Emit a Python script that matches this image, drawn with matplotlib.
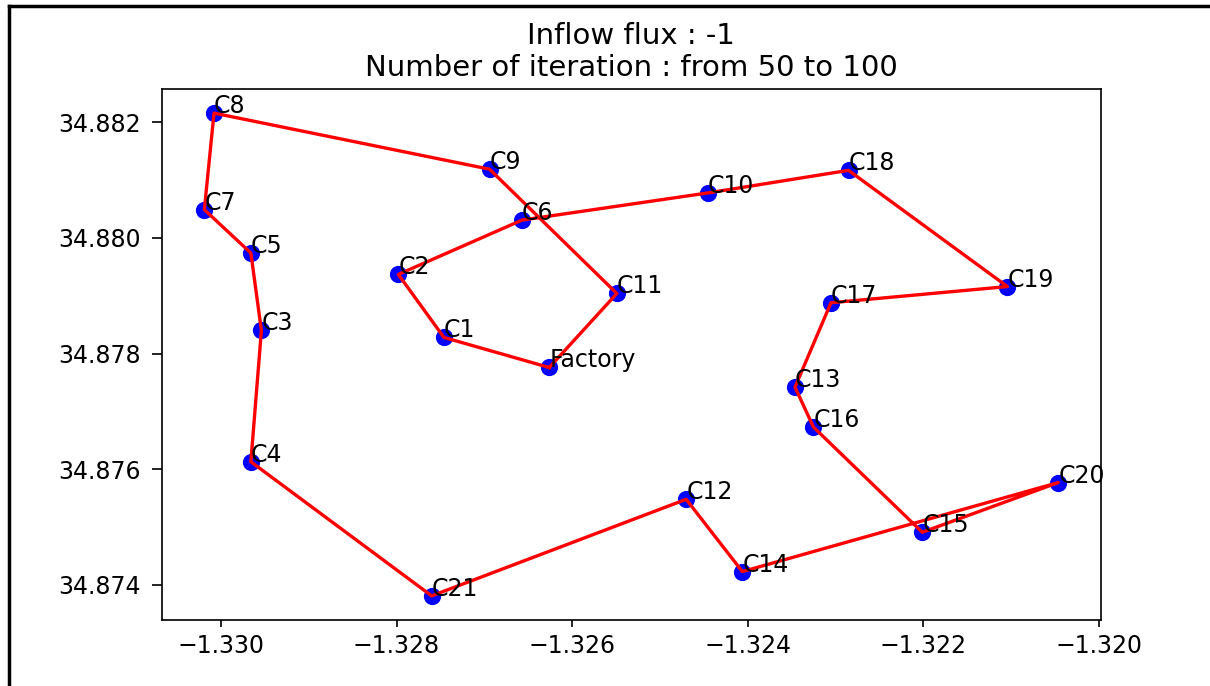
import matplotlib
matplotlib.use('Agg')
import matplotlib.pyplot as plt
from matplotlib.lines import Line2D

# customer / factory coordinates
names = ['Factory', 'C1', 'C2', 'C3', 'C4', 'C5', 'C6', 'C7', 'C8', 'C9', 'C10',
         'C11', 'C12', 'C13', 'C14', 'C15', 'C16', 'C17', 'C18', 'C19', 'C20', 'C21']
xs = [-1.32626, -1.32746, -1.32798, -1.32954, -1.32966, -1.32966, -1.32657,
      -1.33019, -1.33008, -1.32694, -1.32445, -1.32549, -1.32470, -1.32346,
      -1.32406, -1.32201, -1.32325, -1.32305, -1.32285, -1.32104, -1.32046,
      -1.32760]
ys = [34.87776, 34.87828, 34.87937, 34.87840, 34.87613, 34.87974, 34.88031,
      34.88049, 34.88216, 34.88119, 34.88078, 34.87904, 34.87548, 34.87742,
      34.87423, 34.87491, 34.87673, 34.87888, 34.88117, 34.87916, 34.87577,
      34.87381]

# visiting order of the tour
route = ['Factory', 'C1', 'C2', 'C6', 'C10', 'C18', 'C19', 'C17', 'C13', 'C16',
         'C15', 'C20', 'C14', 'C12', 'C21', 'C4', 'C3', 'C5', 'C7', 'C8', 'C9',
         'C11', 'Factory']

inflow = -1
it_from, it_to = 50, 100


def main():
    fig = plt.figure(figsize=(12.1, 6.86), dpi=100)
    ax = fig.add_axes([0.1336, 0.0962, 0.7763, 0.7741])

    ax.scatter(xs, ys, s=130, c='blue', zorder=2)
    idx = [names.index(n) for n in route]
    ax.plot([xs[i] for i in idx], [ys[i] for i in idx], color='red', lw=2.4, zorder=3)
    for n, x, y in zip(names, xs, ys):
        ax.annotate(n, (x, y), fontsize=17, zorder=4)

    ax.set_title('Inflow flux : %d\nNumber of iteration : from %d to %d' % (inflow, it_from, it_to),
                 fontsize=21, pad=9)
    ax.set_xticks([-1.330, -1.328, -1.326, -1.324, -1.322, -1.320])
    ax.set_yticks([34.874, 34.876, 34.878, 34.880, 34.882])
    ax.ticklabel_format(useOffset=False)
    ax.tick_params(axis='both', labelsize=17, width=1.2)
    ax.tick_params(axis='x', length=5, pad=5)
    ax.tick_params(axis='y', length=7, pad=8)
    for sp in ax.spines.values():
        sp.set_linewidth(1.2)

    # screenshot frame (top and left edges)
    fig.add_artist(Line2D([9 / 1210, 1], [1 - 6 / 686, 1 - 6 / 686], color='black', lw=2.5))
    fig.add_artist(Line2D([9 / 1210, 9 / 1210], [0, 1 - 6 / 686], color='black', lw=2.5))

    fig.savefig('out.png', dpi=100)


if __name__ == '__main__':
    main()
